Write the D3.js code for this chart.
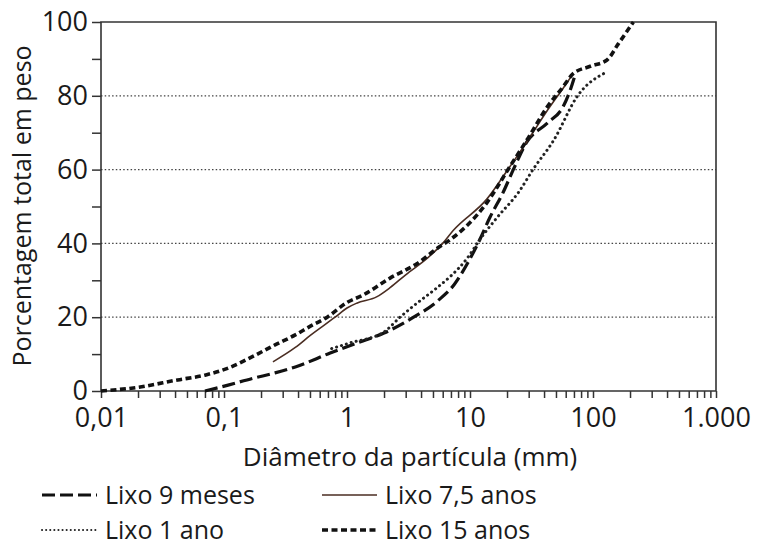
<!DOCTYPE html>
<html lang="pt">
  <head>
    <meta charset="utf-8" />
    <script src="https://cdn.jsdelivr.net/npm/d3@7/dist/d3.min.js"></script>
    <title>Granulometria do lixo</title>
    <style>
      body { margin: 0; background: #fff; }
      text { font-family: "Open Sans", "Noto Sans", sans-serif; fill: #1a1a1a; }
    </style>
  </head>
  <body>
    <div id="container"></div>
    <script>
      // tick labels
      const xTicks = [0.01, 0.1, 1, 10, 100, 1000];
      const xTickLabels = ["0,01", "0,1", "1", "10", "100", "1.000"];
      const yTicks = [0, 20, 40, 60, 80, 100];
      const yMinor = [10, 30, 50, 70, 90];

      // curves: [diâmetro (mm), % em peso]
      const lixo9meses = [[0.07,0],[0.108,1.6],[0.17,3.4],[0.26,4.9],[0.38,6.5],[0.73,10.3],[1.2,13],[2,15.7],[3.4,19.8],[5.5,24.5],[7.5,29],[9.5,34.5],[12,41],[14.5,47],[18.7,54],[22.5,60],[29,67.5],[42.5,72.6],[57,77],[66,82],[72,86]];
      const lixo1ano = [[0.75,11.5],[1.05,13],[2,16],[2.7,20],[3.4,22.8],[5.4,28],[6.9,31],[9.5,36],[12,41],[16.6,47],[25,54],[32.5,60],[48,68],[75,80],[130,86.5]];
      const lixo75anos = [[0.25,7.9],[0.38,11.8],[0.5,15],[0.8,20],[1,22.5],[1.2,23.8],[1.74,25.5],[2.24,28],[3,31.5],[4.5,36],[6,40],[7.3,43.5],[13.7,52],[21,60.7],[29,67.5],[42.5,76],[57,82],[69,86]];
      const lixo15anos = [[0.01,0],[0.02,1],[0.042,3],[0.07,4.3],[0.108,6.2],[0.17,9.3],[0.26,12.5],[0.38,15.2],[0.5,17.5],[0.69,20],[1,24],[1.35,26],[2.24,30.6],[3.7,34.5],[5.6,39],[6.9,41],[13.7,51],[21,60.7],[29,68],[42.5,77],[57,82.4],[69,86],[95,88],[130,89.7],[160,94],[213,100]];

      const width = 758, height = 546;
      const mLeft = 101, mRight = 716, mTop = 22, mBottom = 391;

      const svg = d3.select("#container").append("svg").attr("width", width).attr("height", height);

      const x = d3.scaleLog().domain([0.01, 1000]).range([mLeft, mRight]);
      const y = d3.scaleLinear().domain([0, 100]).range([mBottom, mTop]);

      // dotted grid
      svg.append("g").selectAll("line").data([20, 40, 60, 80]).join("line")
        .attr("x1", mLeft).attr("x2", mRight)
        .attr("y1", d => y(d)).attr("y2", d => y(d))
        .attr("stroke", "#444").attr("stroke-width", 1.3).attr("stroke-dasharray", "1.5,2.2");

      // frame
      svg.append("path")
        .attr("d", `M${mLeft},${mBottom}V${mTop}H${mRight}V${mBottom}H${mLeft}`)
        .attr("fill", "none").attr("stroke", "#333").attr("stroke-width", 1.6);

      // x axis
      const xMinor = [];
      for (let e = -2; e < 3; e++) for (let m = 2; m < 10; m++) xMinor.push(m * Math.pow(10, e));
      const xAxis = svg.append("g").attr("transform", `translate(0,${mBottom})`)
        .call(d3.axisBottom(x).tickValues(xTicks.concat(xMinor)).tickSize(7)
          .tickFormat(d => { const i = xTicks.indexOf(d); return i < 0 ? "" : xTickLabels[i]; }));
      xAxis.select(".domain").remove();
      xAxis.selectAll(".tick line").attr("stroke", "#333").attr("stroke-width", 1.5);
      xAxis.selectAll(".tick text").attr("y", 17).attr("font-size", 27).attr("font-family", "Open Sans").attr("fill", "#1a1a1a");

      // y axis
      const yAxis = svg.append("g").attr("transform", `translate(${mLeft},0)`)
        .call(d3.axisLeft(y).tickValues(yTicks.concat(yMinor)).tickSize(9)
          .tickFormat(d => yTicks.includes(d) ? d : ""));
      yAxis.select(".domain").remove();
      yAxis.selectAll(".tick line").attr("stroke", "#333").attr("stroke-width", 1.5);
      yAxis.selectAll(".tick text").attr("x", -13).attr("font-size", 27).attr("font-family", "Open Sans").attr("fill", "#1a1a1a");

      // axis titles
      svg.append("text").attr("x", 410).attr("y", 466).attr("text-anchor", "middle")
        .attr("font-size", 26).text("Diâmetro da partícula (mm)");
      svg.append("text").attr("transform", "translate(31,206) rotate(-90)").attr("text-anchor", "middle")
        .attr("font-size", 25).text("Porcentagem total em peso");

      // series
      const line = d3.line().x(d => x(d[0])).y(d => y(d[1])).curve(d3.curveMonotoneX);
      const series = [
        { name: "Lixo 9 meses", data: lixo9meses, color: "#111", w: 3.2, dash: "13,5", cap: "butt" },
        { name: "Lixo 1 ano", data: lixo1ano, color: "#222", w: 3, dash: "0.1,5", cap: "round" },
        { name: "Lixo 7,5 anos", data: lixo75anos, color: "#4a2d22", w: 1.6, dash: null, cap: "butt" },
        { name: "Lixo 15 anos", data: lixo15anos, color: "#111", w: 3.6, dash: "6,3.5", cap: "butt" }
      ];
      svg.append("g").selectAll("path").data(series).join("path")
        .attr("d", d => line(d.data))
        .attr("fill", "none").attr("stroke", d => d.color).attr("stroke-width", d => d.w)
        .attr("stroke-dasharray", d => d.dash).attr("stroke-linecap", d => d.cap);

      // legend
      const legendPos = [[42, 495], [42, 530], [322, 495], [322, 530]];
      const lg = svg.append("g").selectAll("g").data(series).join("g")
        .attr("transform", (d, i) => `translate(${legendPos[i][0]},${legendPos[i][1]})`);
      lg.append("line").attr("x1", 0).attr("x2", 55).attr("y1", 0).attr("y2", 0)
        .attr("stroke", d => d.color).attr("stroke-width", d => d.w === 3 ? 2 : d.w)
        .attr("stroke-dasharray", d => d.w === 3 ? "0.1,4" : d.dash).attr("stroke-linecap", d => d.cap);
      lg.append("text").attr("x", 63).attr("y", 9).attr("font-size", 25).text(d => d.name);
    </script>
  </body>
</html>
